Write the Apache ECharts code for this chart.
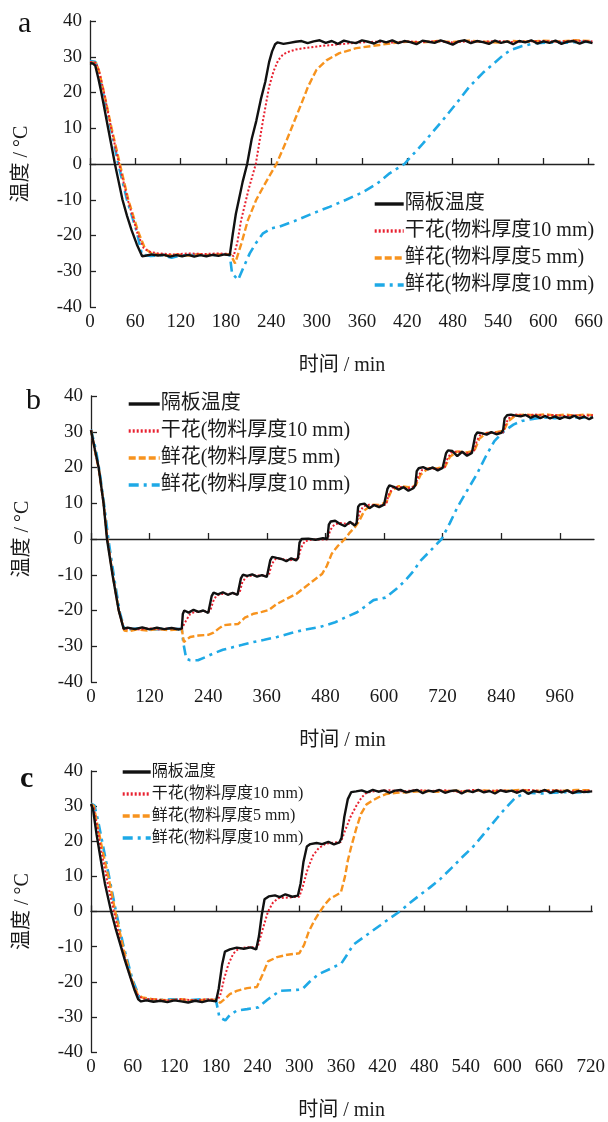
<!DOCTYPE html>
<html>
  <head>
    <meta charset="utf-8">
    <title>温度曲线</title>
    <script src="https://cdn.jsdelivr.net/npm/echarts@6/dist/echarts.min.js"></script>
    <style>
        *{
            padding: 0;
            margin: 0;
        }
        body{
            width: 608px;
            height: 1122px;
            background-color: #ffffff;
        }
        #chart{
            width: 608px;
            height: 1122px;
        }
    </style>
  </head>
  <body>
    <div id="chart"></div>
    <script type="text/javascript">
        // 图例名称
        var names = ['隔板温度', '干花(物料厚度10 mm)', '鲜花(物料厚度5 mm)', '鲜花(物料厚度10 mm)'];

        // x轴刻度
        var aTicks = [0, 60, 120, 180, 240, 300, 360, 420, 480, 540, 600, 660];
        var bTicks = [0, 120, 240, 360, 480, 600, 720, 840, 960];
        var cTicks = [0, 60, 120, 180, 240, 300, 360, 420, 480, 540, 600, 660, 720];

        // 图a  [时间 min, 温度 ℃]
        var aBlack = [[0,28.2],[4,28.1],[7,27.5],[11,24],[15,20],[20,14.5],[24,10],[29,4.5],[33,0],[38,-5],[43,-10],[49,-14.5],[55,-18.5],[62,-22.5],[69,-25.8],
            [75,-25.6],[82,-25.3],[90,-25.6],[98,-25.4],[106,-25.9],[114,-25.5],[122,-25.8],[130,-25.4],[138,-25.9],[146,-25.5],[154,-25.8],[162,-25.4],[170,-25.7],[178,-25.3],[185,-25.5],
            [189,-19.5],[193,-14],[197,-10],[202,-5],[208,0],[214,7],[220,12],[226,18],[232,23],[237,28.5],[241,31.5],[245,33.5],
            [248,34.0],[256,33.6],[264,33.9],[272,34.2],[280,34.4],[288,33.8],[296,34.3],[304,34.6],[312,33.9],[320,34.4],[328,33.6],[336,34.5],[344,34.1],[352,33.8],[360,34.6],[368,34.2],[376,33.7],[384,34.5],[392,34.0],[400,34.6],[408,33.8],[416,34.4],[424,34.1],[432,33.5],[440,34.5],[448,34.2],[456,33.9],[464,34.6],[472,34.0],[480,33.4],[488,34.3],[496,34.6],[504,33.8],[512,34.4],[520,34.1],[528,33.6],[536,34.5],[544,33.9],[552,34.3],[560,33.5],[568,34.4],[576,34.0],[584,34.6],[592,33.7],[600,34.3],[608,33.9],[616,34.5],[624,33.6],[632,34.2],[640,34.4],[648,33.7],[656,34.3],[665,33.8]];
        var aRed = [[0,28.5],[8,28.3],[12,26],[18.5,20],[28,10],[38.5,0],[50,-10],[63,-19.5],[71,-23.5],[78,-24.5],[90,-25],[110,-25.3],[130,-25],[150,-25.2],[170,-25],[186,-25.2],
            [190,-25.8],[195,-22],[200,-15.7],[210,-7],[219.4,0],[229,12.3],[237,21.6],[243,26],[249,29],[255,30.5],[260,31.2],[272,32],[286,32.5],[305,33],[326,33.4],[345,33.8],[365,34.1],
            [380,34.2],[400,34.0],[420,34.3],[440,34.1],[460,34.4],[480,34.0],[500,34.3],[520,34.2],[540,34.4],[560,34.1],[580,34.3],[600,34.4],[620,34.2],[640,34.5],[665,34.3]];
        var aOrange = [[0,28.5],[8,28.3],[12,26],[18.5,20],[28.6,10],[39.6,0],[50.7,-10],[63.9,-19],[72.7,-23.6],[80,-24.8],[88.5,-25.2],[100,-25.6],[115,-25.3],[130,-25.6],[145,-25.2],[160,-25.5],[175,-25.2],[186,-25.3],
            [192,-27.8],[200,-22.5],[209,-15.7],[220,-10],[233,-5],[246.7,0],[259,6],[271,12.3],[280,17],[288.5,21.6],[299.6,26.3],[312.8,29],[330,31],[352.5,32.4],[383,33.3],[400,33.8],
            [420,34.2],[440,34.0],[460,34.4],[480,34.1],[500,34.5],[520,34.2],[540,34.0],[560,34.4],[580,34.2],[600,34.5],[620,34.3],[640,34.6],[665,34.4]];
        var aCyan = [[0,28.8],[7,28.6],[10,27],[17,20],[27.7,10],[37.4,0],[48.9,-10],[62,-19],[68.7,-25.3],[80,-25.7],[95,-25.5],[108,-26.2],[120,-25.6],[140,-25.4],[160,-25.6],[175,-25.3],[185,-25.5],
            [188,-30.6],[196,-32.4],[204,-28.5],[211.4,-25],[220,-22],[229,-19.4],[240,-18],[251,-17.5],[270,-16],[295,-13.8],[317,-12],[339,-10],[360,-8],[380,-5.5],[396.5,-2.6],[416,0],[440.5,5.7],[467,12.3],[485,17],[502,21.6],[520,25.5],[535,28.2],[547,30.5],[557,31.9],[572,33],[590,33.8],[610,34],[630,33.9],[650,34.2],[665,34.1]];

        // 图b
        var bBlack = [[0,30.4],[2,30.2],[8,25],[15.6,20.1],[25.8,9.9],[32.7,0],[44.3,-10.2],[56.6,-19.9],[66.8,-25.1],[75,-24.8],[90,-25.2],[105,-24.7],[120,-25.3],[135,-24.8],[150,-25.2],[165,-24.9],[180,-25.3],[186,-25.0],
            [188,-21],[191,-20],[200,-20.6],[210,-19.8],[220,-20.4],[230,-20],[240,-20.7],[244,-20.3],
            [247,-16],[251,-15],[260,-15.5],[270,-14.9],[280,-15.6],[290,-15.1],[300,-15.6],[304,-15.2],
            [307,-11],[311,-10],[320,-10.3],[330,-9.9],[340,-10.5],[350,-10.1],[360,-10.6],[364,-10.2],
            [367,-6],[371,-5],[380,-5.3],[390,-5.6],[400,-6.2],[410,-5.4],[420,-6],[424,-5.2],
            [427,-1],[431,0],[445,0.1],[460,-0.2],[475,0.2],[484,0],
            [487,4],[491,4.9],[500,5.1],[510,4.2],[520,3.6],[530,4.8],[540,3.8],[544,4.5],
            [547,9],[551,9.7],[560,9.9],[570,8.6],[580,9.5],[590,8.9],[600,9.6],[604,9.2],
            [607,14],[611,15],[620,14.6],[630,13.8],[640,14.5],[650,13.5],[660,14.2],[664,15],
            [667,19],[671,19.8],[680,20.1],[690,19.5],[700,20],[710,19.2],[720,19.9],[724,20.3],
            [727,24],[731,24.8],[740,24.6],[750,23.2],[760,24.4],[770,23.3],[780,24.1],[784,24.6],
            [787,29],[791,29.8],[800,29.6],[810,29.2],[820,29.9],[830,29.3],[840,29.7],[844,30.5],
            [847,33.8],[852,34.6],[860,34.8],[870,34.5],[880,34.3],[890,34.7],[900,33.9],[910,34.5],[920,33.8],[930,34.4],[940,33.7],[950,34.3],[960,33.6],[970,34.2],[980,33.8],[990,34.5],[1000,33.7],[1010,34.2],[1020,33.5],[1028,34.1]];
        var bRed = [[0,30.5],[3,30],[9,24],[16,19.5],[26,9.5],[33.5,0],[45,-10.5],[57,-20],[67,-25.2],[80,-25],[100,-25.3],[120,-25],[140,-25.3],[160,-25],[186,-25.2],
            [190,-24],[196,-22.5],[203,-21],[212,-20.4],[225,-20.2],[244,-20.2],[250,-17.5],[256,-16],[265,-15.4],[285,-15.3],[304,-15.2],[310,-12],[318,-10.6],[330,-10.2],[364,-10.2],
            [370,-7],[378,-5.6],[390,-5.5],[405,-6],[424,-5.5],[430,-2.5],[438,-0.6],[450,-0.2],[484,-0.1],[490,2.5],[498,4],[510,4.5],[525,4.2],[544,4.4],
            [550,7.5],[558,9.2],[570,9.6],[590,9.3],[604,9.6],[610,12.5],[618,14.3],[630,14.6],[650,14.2],[664,14.8],[670,17.5],[678,19.3],[690,19.8],[710,19.6],[724,20],
            [730,22.5],[738,24.2],[750,24.5],[770,24],[784,24.5],[790,27.5],[798,29.3],[815,29.7],[844,29.8],[850,32.5],[858,34.2],[870,34.8],[890,34.6],[910,34.8],[930,34.5],[950,34.7],[970,34.4],[990,34.6],[1010,34.5],[1028,34.6]];
        var bOrange = [[0,30.5],[3,30],[9,24],[16,19.5],[26,9.8],[33.5,0],[45,-10.5],[57,-20],[68,-25.6],[78,-25.8],[95,-25.3],[115,-25.6],[135,-25.2],[160,-25.5],[186,-25.2],
            [190,-28.8],[203,-27.4],[220,-27],[240,-26.8],[251,-26.2],[262,-25],[271.5,-24.1],[285,-23.9],[301,-23.8],[315,-22],[333,-20.9],[350,-20.4],[365,-19.8],[380,-18.2],[401,-16.7],[421,-15.3],[438,-13.5],[455.7,-11.6],[473,-9.8],[483,-7.5],[493,-4.1],[505,-2],[520,0],[530,1.8],[541,3.4],[549,5],
            [560,8],[575,9.6],[590,9.5],[605,10.3],[615,13.5],[630,14.8],[650,14.5],[665,15],[675,18],[690,19.7],[710,19.8],[725,20.2],[735,23],[750,24.5],[770,24.2],[785,24.7],[795,28],[810,29.7],[830,29.9],[845,30.3],
            [855,33],[870,34.6],[890,34.8],[910,34.6],[930,34.9],[950,34.5],[970,34.8],[990,34.5],[1010,34.8],[1028,34.6]];
        var bCyan = [[0,30.6],[4,30.3],[10,25],[18,18.5],[28,8.5],[35.5,0],[47,-10.5],[59,-20.5],[68,-25],[80,-25.2],[100,-25],[130,-25.3],[160,-25],[186,-25.2],
            [189,-29],[195,-33.5],[203,-33.9],[219,-33.9],[235,-33],[251,-32],[270,-31],[292,-30.2],[310,-29.6],[333,-28.8],[355,-28.2],[381,-27.4],[410,-26.3],[440,-25.3],[469,-24.6],[500,-23.3],[523,-21.8],[545,-20.5],[560,-19],[578.5,-17.1],[603,-16.4],[625,-14],[643,-11.7],[660,-9],[674.5,-6.1],[697,-3],[718,0],
            [735,4.5],[750,8.8],[770,13.5],[790,18.1],[808,23],[826,27.4],[846,30.2],[865,32],[882,33],[905,33.6],[928,34],[950,33.8],[975,34.1],[1000,33.9],[1028,34.2]];

        // 图c
        var cBlack = [[0,30.6],[3,29],[8,22],[14,14.8],[20,8],[29,0],[35,-4.5],[41,-8.6],[49,-14],[57,-18.9],[63,-22.5],[68,-25],[72,-25.6],[80,-25.3],[90,-25.7],[100,-25.4],[110,-25.8],[120,-25.3],[130,-25.6],[140,-25.9],[150,-25.4],[160,-25.8],[170,-25.3],[180,-25.6],
            [184,-22],[189,-15],[193,-11.4],[200,-10.8],[210,-10.3],[220,-10.6],[230,-10.2],[238,-10.8],
            [242,-7],[246,-1],[250,3.5],[256,4.3],[265,4.6],[272,4.1],[280,4.9],[290,4.2],[298,4.5],
            [302,8],[306,14],[311,18.5],[316,19.2],[325,19.5],[333,19.2],[342,19.8],[350,19.1],[358,19.7],
            [361,21],[365,27],[370,32],[375,34],[382,34.2],[390,34.5],[398,33.9],[406,34.6],[414,34.1],[422,34.5],[430,33.8],[438,34.4],[446,34.6],[454,33.9],[462,34.3],[470,34.6],[478,33.7],[486,34.4],[494,34.1],[502,34.6],[510,33.8],[518,34.3],[526,34.5],[534,33.6],[542,34.4],[550,34.0],[558,34.6],[566,33.9],[574,34.3],[582,33.6],[590,34.5],[598,34.1],[606,34.4],[614,33.8],[622,34.5],[630,33.5],[638,34.3],[646,34.0],[654,34.6],[662,33.8],[670,34.4],[678,33.9],[686,34.5],[694,33.7],[702,34.3],[710,34.0],[722,34.2]];
        var cRed = [[0,30.5],[4,29.5],[9,24],[15,17],[24,8],[33,0],[44,-10],[57,-19],[66,-23.5],[74,-24.8],[90,-25],[110,-25.3],[130,-25],[150,-25.3],[170,-25],[182,-25.2],
            [186,-24],[192,-19],[198,-15],[205,-12],[213,-10.5],[225,-10.2],[240,-10.2],[246,-6],[255,0],[262,2.5],[270,3.8],[285,4],[300,4.2],[305,7],[312,12],[320,16],[328,18],[338,19.3],[350,19.6],[360,19.8],
            [366,23],[374,27],[382,30],[390,32.5],[397,33.8],[410,34.3],[430,34.5],[450,34.2],[470,34.6],[490,34.3],[510,34.5],[530,34.1],[550,34.6],[570,34.3],[590,34.5],[610,34.2],[630,34.6],[650,34.3],[670,34.5],[690,34.2],[722,34.4]];
        var cOrange = [[0,30.5],[4,30],[10,24],[17,17],[26,9],[35,0],[46,-10],[58,-19],[67,-23.5],[74,-24.5],[90,-25],[110,-25.3],[130,-25],[150,-25.4],[170,-25],[182,-25.3],
            [186,-26],[192,-25],[200,-23.5],[210,-22.6],[225,-21.8],[239,-21.5],[247,-18],[255,-14.2],[268,-13],[283,-12.3],[300,-11.9],[307,-9.5],[313.6,-5.8],[322,-2.5],[330,0],[337,2],[344,3.6],[352,4.5],[360,5.4],
            [366,10],[370,14.5],[375,18.5],[382,23.5],[389,27.8],[397,30.5],[405.6,31.6],[415,32.6],[425,33.4],[440,33.8],[460,34.0],[480,34.3],[500,34.1],[520,34.4],[540,34.2],[560,34.5],[580,34.3],[600,34.4],[620,34.6],[640,34.3],[660,34.5],[680,34.4],[700,34.6],[722,34.5]];
        var cCyan = [[0,30.7],[5,30.2],[10,26],[17,19],[26,10],[36,0],[47,-10],[60,-19.5],[70,-24.5],[80,-25],[100,-25.2],[120,-25],[140,-25.3],[160,-25],[180,-25.2],
            [185,-30.1],[193.6,-31],[200,-29.5],[210,-28.2],[225,-27.8],[241,-27.3],[255,-25],[271.8,-22.6],[290,-22.4],[304,-22.2],[315,-20],[327.5,-17.9],[345,-16.3],[361,-14.7],[370,-12],[377.7,-9.5],[395,-7],[416.8,-3.9],[430,-2],[444.8,0],
            [458,2.2],[472.6,4.5],[488,6.8],[503,9.2],[520,12.5],[535,15.5],[550.8,18.5],[570,23],[590,27.8],[600,30],[612,32.5],[628,33.8],[650,33.6],[680,34],[700,33.9],[722,34.1]];

        var colors = ['#111111', '#e8202f', '#f7931e', '#1ea9e6'];
        var lineTypes = ['solid', [2, 2], [7, 3], [10, 5, 3, 5]];
        var widths = [2.4, 2, 2.4, 2.6];
        var font = '"Liberation Serif", "Noto Sans CJK SC", serif';

        var panels = [
            {label: 'a', lx: 25, ly: 25, bold: false, top: 21, left: 90, right: 14, max: 667, ticks: aTicks, data: [aBlack, aRed, aOrange, aCyan],
             legend: {left: 373, top: 194, size: 20, gap: 7, w: 29}},
            {label: 'b', lx: 33, ly: 402, bold: false, top: 396, left: 91, right: 14, max: 1030, ticks: bTicks, data: [bBlack, bRed, bOrange, bCyan],
             legend: {left: 127, top: 394, size: 20, gap: 7, w: 31}},
            {label: 'c', lx: 27, ly: 780, bold: true, top: 771, left: 91, right: 14, max: 722, ticks: cTicks, data: [cBlack, cRed, cOrange, cCyan],
             legend: {left: 121, top: 764, size: 16, gap: 6, w: 28}}
        ];

        var grid = [], xAxis = [], yAxis = [], series = [], legend = [], graphic = [];
        panels.forEach(function (p, i) {
            grid.push({left: p.left, right: p.right, top: p.top, height: 286});
            // 底部刻度文字
            xAxis.push({
                gridIndex: i, type: 'value', min: 0, max: p.max, position: 'bottom',
                axisLine: {show: false, onZero: false}, axisTick: {show: false}, splitLine: {show: false},
                axisLabel: {customValues: p.ticks, fontSize: 19, margin: 6, color: '#1a1a1a', fontFamily: font},
                name: '时间 / min', nameLocation: 'middle', nameGap: 49,
                nameTextStyle: {fontSize: 20, color: '#1a1a1a', fontFamily: font}
            });
            // 0℃线
            xAxis.push({
                gridIndex: i, type: 'value', min: 0, max: p.max, position: 'bottom',
                axisLine: {show: true, onZero: true, lineStyle: {color: '#222', width: 1.3}},
                axisTick: {show: true, inside: true, length: 6, customValues: p.ticks, lineStyle: {color: '#222', width: 1.3}},
                axisLabel: {show: false}, splitLine: {show: false}
            });
            yAxis.push({
                gridIndex: i, type: 'value', min: -40, max: 40, interval: 10,
                axisLine: {show: true, onZero: false, lineStyle: {color: '#222', width: 1.3}},
                axisTick: {show: true, inside: true, length: 6, lineStyle: {color: '#222', width: 1.3}},
                axisLabel: {fontSize: 19, margin: 8, color: '#1a1a1a', fontFamily: font},
                splitLine: {show: false},
                name: '温度 / °C', nameLocation: 'middle', nameRotate: 90, nameGap: 58,
                nameTextStyle: {fontSize: 20, color: '#1a1a1a', fontFamily: font}
            });
            for (var k = 3; k >= 0; k--) {
                series.push({
                    name: names[k], type: 'line', xAxisIndex: i * 2, yAxisIndex: i,
                    data: p.data[k], showSymbol: false, symbol: 'none', animation: false,
                    z: 10 - k,
                    lineStyle: {color: colors[k], width: widths[k], type: lineTypes[k]},
                    itemStyle: {color: colors[k]}
                });
            }
            legend.push({
                orient: 'vertical', left: p.legend.left, top: p.legend.top, padding: 0,
                itemWidth: p.legend.w, itemHeight: 12, itemGap: p.legend.gap,
                data: names, selectedMode: false,
                itemStyle: {opacity: 0},
                lineStyle: {width: 3.4},
                textStyle: {fontSize: p.legend.size, color: '#1a1a1a', fontFamily: font, padding: [0, 0, 0, -4]}
            });
            graphic.push({
                type: 'text', left: p.lx - 7, top: p.ly - 16,
                style: {text: p.label, fontSize: 30, fontWeight: p.bold ? 'bold' : 'normal', fontFamily: font, fill: '#111'}
            });
        });

        var myChart = echarts.init(document.getElementById('chart'));
        myChart.setOption({
            animation: false,
            backgroundColor: '#ffffff',
            grid: grid,
            xAxis: xAxis,
            yAxis: yAxis,
            legend: legend,
            graphic: graphic,
            series: series
        });
    </script>
  </body>
</html>
